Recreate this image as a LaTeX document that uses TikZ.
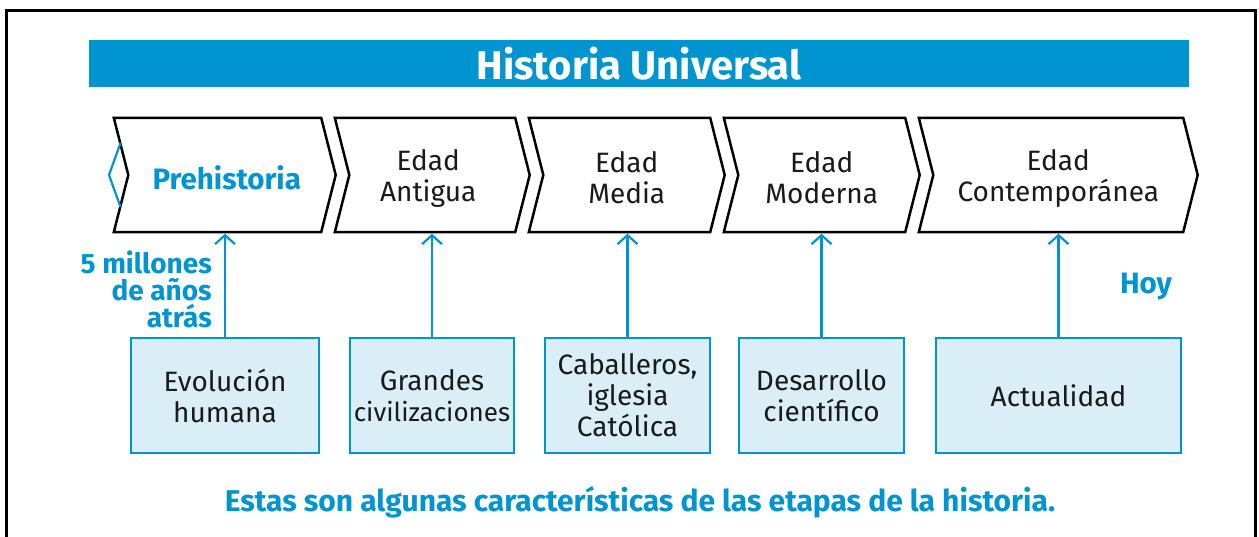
\documentclass[tikz,border=0pt]{standalone}
\usepackage{fontspec}
\setmainfont{Fira Sans}
\newfontfamily\lightfont{Fira Sans}
\usetikzlibrary{arrows.meta,calc}
\definecolor{hblue}{HTML}{0094D0}
\definecolor{hfill}{HTML}{D9EEF7}
\definecolor{htext}{HTML}{1A1A1A}
\newcommand\drawchev[1]{\draw[chevline] ($(#1.north west)+(-7.25,0)$) -- ($(#1.north east)+(-7.25,0)$) -- ($(#1.east)+(7.25,0)$) -- ($(#1.south east)+(-7.25,0)$) -- ($(#1.south west)+(-7.25,0)$) -- ($(#1.west)+(7.25,0)$) -- cycle;}
\begin{document}
\begin{tikzpicture}[x=1pt,y=-1pt,
  chev/.style={minimum height=114pt, inner sep=0pt},
  chevtext/.style={inner sep=0pt, text=htext, font=\lightfont\fontsize{28}{31}\selectfont, align=center},
  chevline/.style={draw=black, line width=2.5pt, line join=miter},
  ebox/.style={draw=hblue, fill=hfill, line width=2.2pt, minimum height=115pt, inner sep=0pt, text=htext, font=\lightfont\fontsize{28}{31}\selectfont, align=center},
  uparr/.style={draw=hblue, line width=2.2pt, shorten >=1.5pt, -{Straight Barb[length=9pt,width=20pt,line width=2.2pt]}},
  bluebold/.style={text=hblue, font=\bfseries\fontsize{29.5}{30}\selectfont},
]
\useasboundingbox (0,0) rectangle (1259,537);
% frame
\draw[line width=2.8pt] (6.5,560) -- (6.5,10.5) -- (1255.5,10.5) -- (1255.5,560);
% title
\node[fill=hblue, minimum width=1100pt, minimum height=47pt, inner sep=0pt, text=white, font=\bfseries\fontsize{40}{40}\selectfont] (title) at (639,63.5) {Historia Universal};
% chevrons
\node[chev, minimum width=207pt] (c1) at (224.75,175) {};
\node[chev, minimum width=180pt] (c2) at (432.25,175) {};
\node[chev, minimum width=181pt] (c3) at (626.75,175) {};
\node[chev, minimum width=181pt] (c4) at (821.75,175) {};
\node[chev, minimum width=264pt] (c5) at (1058.25,175) {};
\drawchev{c1}
\drawchev{c2}
\drawchev{c3}
\drawchev{c4}
\drawchev{c5}
\draw[hblue, line width=2.2pt] (120.5,143) -- (109,175) -- (120.5,207);
\node[chevtext, text=hblue, font=\bfseries\fontsize{29.5}{31}\selectfont] (t1) at ($(c1.center)+(2,3)$) {Prehistoria};
\node[chevtext] (t2) at ($(c2.center)+(-4,3)$) {Edad\\Antigua};
\node[chevtext] (t3) at ($(c3.center)+(0,3)$) {Edad\\Media};
\node[chevtext] (t4) at ($(c4.center)+(0,3)$) {Edad\\Moderna};
\node[chevtext] (t5) at ($(c5.center)+(0,3)$) {Edad\\Contemporánea};
% boxes
\node[ebox, minimum width=188pt] (b1) at (225,395.5) {Evolución\\humana};
\node[ebox, minimum width=164pt] (b2) at (432,395.5) {Grandes\\{\fontsize{26}{31}\selectfont civilizaciones}};
\node[ebox, minimum width=165pt] (b3) at (627.5,395.5) {Caballeros,\\iglesia\\Católica};
\node[ebox, minimum width=165pt] (b4) at (821.5,395.5) {Desarrollo\\científico};
\node[ebox, minimum width=245pt] (b5) at (1058.5,395.5) {Actualidad};
% arrows
\draw[uparr] (b1.north) -- (b1.north |- c1.south);
\draw[uparr] (b2.north) -- (b2.north |- c2.south);
\draw[uparr] (b3.north) -- (b3.north |- c3.south);
\draw[uparr] (b4.north) -- (b4.north |- c4.south);
\draw[uparr] (b5.north) -- (b5.north |- c5.south);
% labels
\node[bluebold, font=\bfseries\fontsize{28}{27}\selectfont, align=right, anchor=east, inner sep=0pt] (ago) at (212,289) {5 millones\\de años\\atrás};
\node[bluebold] (hoy) at (1146,287) {Hoy};
\node[bluebold, font=\bfseries\fontsize{30}{30}\selectfont] (cap) at (640,502) {Estas son algunas características de las etapas de la historia.};
\end{tikzpicture}
\end{document}
